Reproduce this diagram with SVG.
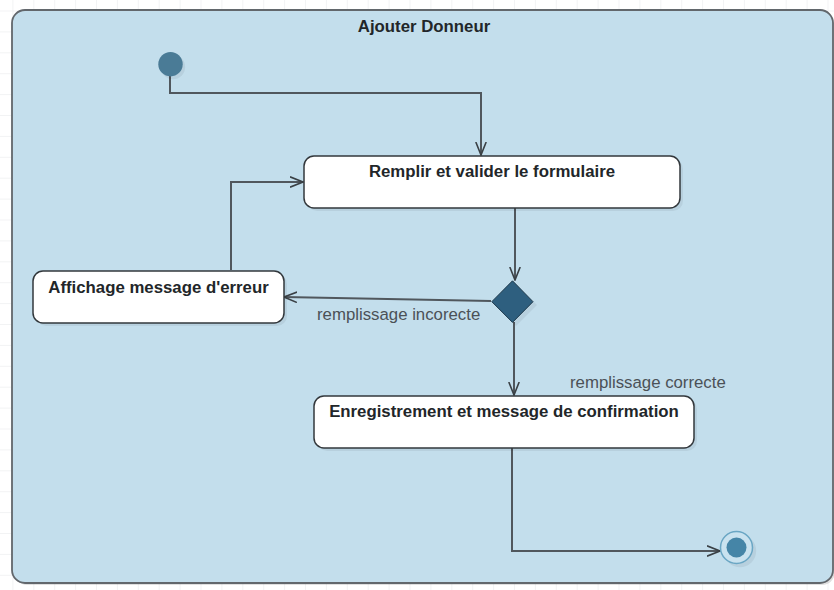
<svg xmlns="http://www.w3.org/2000/svg" width="834" height="590" viewBox="0 0 834 590">
  <style>
    .frame { fill: #c3deec; stroke: #62676c; stroke-width: 1.8; }
    .act { fill: #ffffff; stroke: #33383c; stroke-width: 1.5; }
    .shade { fill: #000000; fill-opacity: 0.06; }
    .title { font-family: "Liberation Sans", Arial, sans-serif; font-size: 16.8px; font-weight: bold; fill: #222629; text-anchor: middle; }
    .lbl { font-family: "Liberation Sans", Arial, sans-serif; font-size: 16.8px; fill: #4b5157; }
    .edge { fill: none; stroke: #50575d; stroke-width: 2; }
  </style>
  <defs>
    <pattern id="grid" patternUnits="userSpaceOnUse" x="12.4" y="10.5" width="20.9" height="20.9">
      <path d="M0,0 H20.9 M0,0 V20.9" fill="none" stroke="#e6e8ea" stroke-width="1"/>
    </pattern>
    <marker id="open" viewBox="0 0 14 12" refX="13" refY="6" markerWidth="14" markerHeight="12" markerUnits="userSpaceOnUse" orient="auto">
      <path d="M0,0.8 L13,6 L0,11.2" fill="none" stroke="#3a4045" stroke-width="1.6"/>
    </marker>
  </defs>

  <!-- canvas grid -->
  <rect x="0" y="0" width="834" height="590" fill="#ffffff"/>
  <rect x="0" y="0" width="834" height="590" fill="url(#grid)"/>

  <!-- activity frame -->
  <g id="frame">
    <rect x="14" y="13" width="821" height="572" rx="13" fill="#000000" fill-opacity="0.12"/>
    <rect class="frame" x="12" y="10" width="821" height="573" rx="13"/>
    <text class="title" x="424" y="32">Ajouter Donneur</text>
  </g>

  <!-- connectors -->
  <g id="connectors">
    <path class="edge" d="M170,76 V93 H481 V155" marker-end="url(#open)"/>
    <path class="edge" d="M515,208 V280" marker-end="url(#open)"/>
    <path class="edge" d="M491,301 L284,297" marker-end="url(#open)"/>
    <path class="edge" d="M231,270 V182 H303" marker-end="url(#open)"/>
    <path class="edge" d="M514,322 V395" marker-end="url(#open)"/>
    <path class="edge" d="M512,448 V551 H720" marker-end="url(#open)"/>
    <text class="lbl" x="317" y="320">remplissage incorecte</text>
    <text class="lbl" x="570" y="388">remplissage correcte</text>
  </g>

  <!-- start -->
  <g id="start">
    <circle cx="173" cy="67" r="12.2" class="shade"/>
    <circle cx="170.5" cy="64.2" r="12.2" fill="#4a7b96"/>
  </g>

  <g id="remplir">
    <rect class="shade" x="307" y="159" width="376" height="52" rx="10"/>
    <rect class="act" x="304" y="156" width="376" height="52" rx="10"/>
    <text class="title" x="492" y="177">Remplir et valider le formulaire</text>
  </g>

  <g id="decision">
    <polygon class="shade" points="516,284 537,305 516,326 495,305"/>
    <polygon points="512.5,280.8 533,301.7 512.5,322.4 491.8,301.7" fill="#2e5f7f" stroke="#1f3a4c" stroke-width="1"/>
  </g>

  <g id="affichage">
    <rect class="shade" x="36" y="274" width="251" height="52" rx="10"/>
    <rect class="act" x="33" y="271" width="251" height="52" rx="10"/>
    <text class="title" x="158.5" y="292.5">Affichage message d'erreur</text>
  </g>

  <g id="enregistrement">
    <rect class="shade" x="317" y="399" width="380" height="52" rx="10"/>
    <rect class="act" x="314" y="396" width="380" height="52" rx="10"/>
    <text class="title" x="504" y="417">Enregistrement et message de confirmation</text>
  </g>

  <!-- end -->
  <g id="end">
    <circle cx="740" cy="551" r="16.2" class="shade"/>
    <circle cx="736.5" cy="547.5" r="16" fill="#c9e2ef" stroke="#6aa6c4" stroke-width="1.5"/>
    <circle cx="736.5" cy="547.5" r="10" fill="#4585a7"/>
  </g>
</svg>
